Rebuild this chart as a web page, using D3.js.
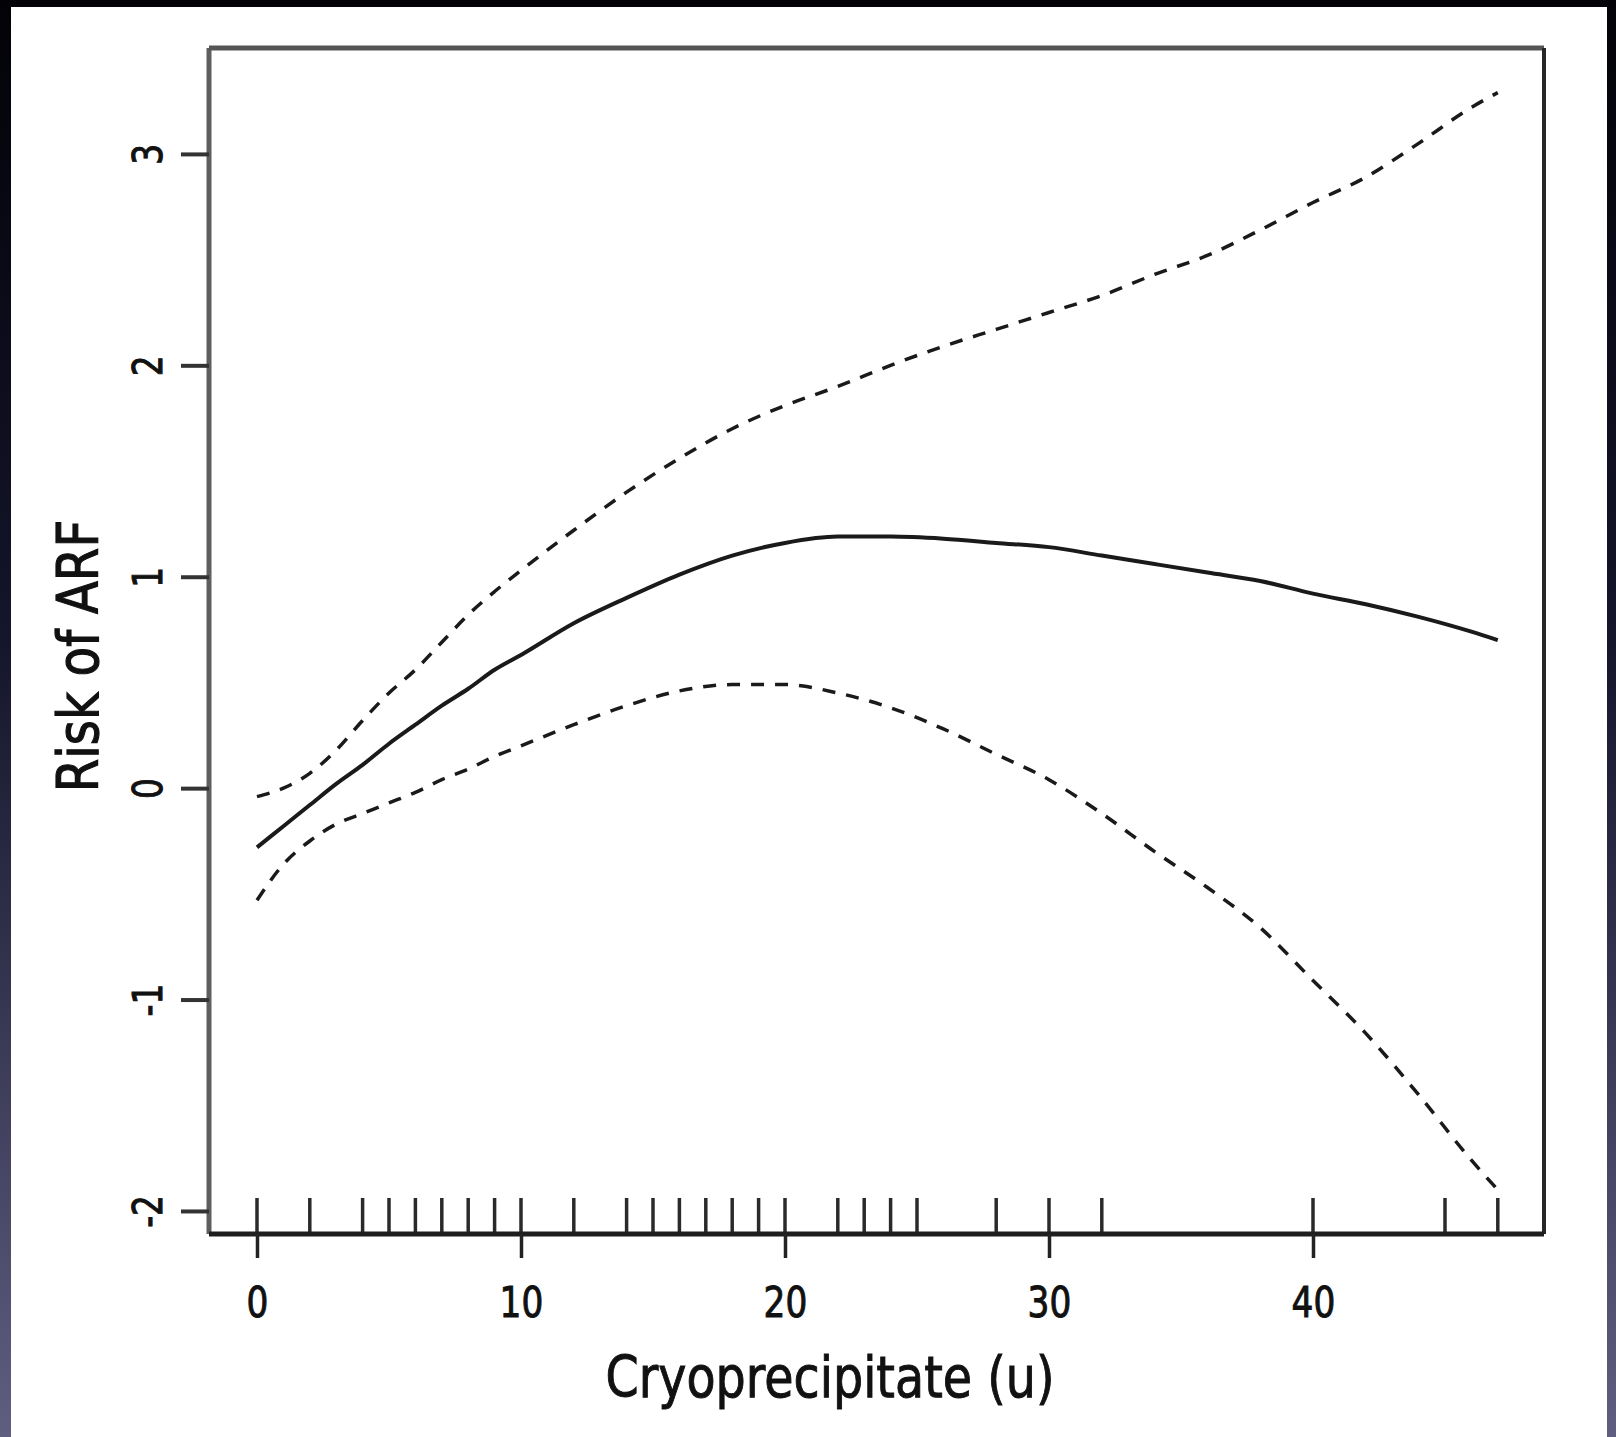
<!DOCTYPE html>
<html>
<head>
<meta charset="utf-8">
<script src="https://cdn.jsdelivr.net/npm/d3@7"></script>
<style>
  body { margin: 0; background: #000; }
  svg { display: block; }
</style>
</head>
<body>
<div id="chart"></div>
<script>
// x grid for the fitted curve (units of cryoprecipitate)
const xs = [0, 1, 2, 3, 4, 5, 6, 7, 8, 9, 10, 12, 14, 16, 18, 20, 22, 24, 26, 28, 30, 32, 34, 36, 38, 40, 42, 44, 46, 47];
// fitted risk
const fit = [-0.28, -0.18, -0.08, 0.02, 0.11, 0.21, 0.30, 0.39, 0.47, 0.56, 0.63, 0.78, 0.90, 1.01, 1.10, 1.16, 1.19, 1.19, 1.18, 1.16, 1.14, 1.10, 1.06, 1.02, 0.98, 0.92, 0.87, 0.81, 0.74, 0.70];
// upper and lower confidence bands
const upper = [-0.04, 0.00, 0.07, 0.18, 0.32, 0.45, 0.56, 0.69, 0.82, 0.93, 1.03, 1.22, 1.40, 1.56, 1.70, 1.81, 1.90, 2.00, 2.09, 2.17, 2.25, 2.33, 2.43, 2.52, 2.64, 2.77, 2.89, 3.05, 3.22, 3.29];
const lower = [-0.53, -0.36, -0.25, -0.17, -0.12, -0.07, -0.02, 0.04, 0.09, 0.15, 0.20, 0.30, 0.39, 0.46, 0.49, 0.49, 0.45, 0.38, 0.28, 0.16, 0.04, -0.12, -0.30, -0.47, -0.66, -0.91, -1.16, -1.45, -1.76, -1.90];
// observed values shown as a rug
const rug = [0, 2, 4, 5, 6, 7, 8, 9, 10, 12, 14, 15, 16, 17, 18, 19, 20, 22, 23, 24, 25, 28, 30, 32, 40, 45, 47];
// axis ticks
const xTicks = [0, 10, 20, 30, 40];
const yTicks = [-2, -1, 0, 1, 2, 3];

const width = 1616;
const height = 1437;
const font = "'DejaVu Sans', Verdana, sans-serif";

const svg = d3.select("#chart").append("svg")
  .attr("width", width)
  .attr("height", height);

// dark frame around the white panel
const grad = svg.append("defs").append("linearGradient")
  .attr("id", "frame").attr("x1", 0).attr("y1", 0).attr("x2", 0).attr("y2", 1);
grad.append("stop").attr("offset", "0%").attr("stop-color", "#020207");
grad.append("stop").attr("offset", "45%").attr("stop-color", "#15152c");
grad.append("stop").attr("offset", "100%").attr("stop-color", "#605e80");
svg.append("rect").attr("width", width).attr("height", height).attr("fill", "url(#frame)");
svg.append("rect").attr("x", 11).attr("y", 7).attr("width", 1596).attr("height", height - 7).attr("fill", "#fff");

// plot box
const margin = { top: 48, right: 1544, bottom: 1234, left: 209 };

const x = d3.scaleLinear().domain([-1.818, 48.75]).range([margin.left, margin.right]);
const y = d3.scaleLinear().domain([-2.109, 3.501]).range([margin.bottom, margin.top]);

// squeeze text along its direction (the source font is narrower than DejaVu)
function squeeze(sel, k) {
  sel.each(function () {
    const n = this.getComputedTextLength();
    d3.select(this).attr("textLength", n * k).attr("lengthAdjust", "spacingAndGlyphs");
  });
}

// curves
const line = d3.line()
  .x((d) => x(d[0]))
  .y((d) => y(d[1]))
  .curve(d3.curveMonotoneX);

svg.append("path")
  .datum(xs.map((v, i) => [v, upper[i]]))
  .attr("fill", "none").attr("stroke", "#1a1a1a").attr("stroke-width", 3.5)
  .attr("stroke-dasharray", "13 11")
  .attr("d", line);

svg.append("path")
  .datum(xs.map((v, i) => [v, lower[i]]))
  .attr("fill", "none").attr("stroke", "#1a1a1a").attr("stroke-width", 3.5)
  .attr("stroke-dasharray", "13 11")
  .attr("d", line);

svg.append("path")
  .datum(xs.map((v, i) => [v, fit[i]]))
  .attr("fill", "none").attr("stroke", "#1a1a1a").attr("stroke-width", 4)
  .attr("d", line);

// rug
svg.append("g").selectAll("line")
  .data(rug)
  .join("line")
  .attr("x1", (d) => x(d)).attr("x2", (d) => x(d))
  .attr("y1", margin.bottom - 36).attr("y2", margin.bottom)
  .attr("stroke", "#2a2a2a").attr("stroke-width", 3.5);

// box
svg.append("line").attr("x1", margin.left).attr("x2", margin.left)
  .attr("y1", margin.top).attr("y2", margin.bottom)
  .attr("stroke", "#5f5f5f").attr("stroke-width", 5);
svg.append("line").attr("x1", margin.left).attr("x2", margin.right)
  .attr("y1", margin.top).attr("y2", margin.top)
  .attr("stroke", "#555").attr("stroke-width", 5);
svg.append("line").attr("x1", margin.right).attr("x2", margin.right)
  .attr("y1", margin.top).attr("y2", margin.bottom)
  .attr("stroke", "#262626").attr("stroke-width", 4);
svg.append("line").attr("x1", margin.left).attr("x2", margin.right)
  .attr("y1", margin.bottom).attr("y2", margin.bottom)
  .attr("stroke", "#1e1e1e").attr("stroke-width", 5);

// x axis
const xAxis = svg.append("g")
  .attr("transform", `translate(0,${margin.bottom})`)
  .call(d3.axisBottom(x).tickValues(xTicks).tickSize(24).tickFormat((d) => String(d)));
xAxis.select(".domain").remove();
xAxis.selectAll(".tick line").attr("stroke", "#222").attr("stroke-width", 3.5);
xAxis.selectAll(".tick text")
  .attr("y", 83).attr("dy", 0)
  .attr("fill", "#111").attr("stroke", "#111").attr("stroke-width", 1)
  .style("font-family", font).style("font-size", "43px")
  .call(squeeze, 0.8);

// y axis
const yAxis = svg.append("g")
  .attr("transform", `translate(${margin.left},0)`)
  .call(d3.axisLeft(y).tickValues(yTicks).tickSize(28).tickFormat((d) => String(d)));
yAxis.select(".domain").remove();
yAxis.selectAll(".tick line").attr("stroke", "#333").attr("stroke-width", 4);
yAxis.selectAll(".tick text")
  .attr("x", 0).attr("dy", 0)
  .attr("transform", "translate(-47,0) rotate(-90)")
  .attr("text-anchor", "middle")
  .attr("fill", "#111").attr("stroke", "#111").attr("stroke-width", 1)
  .style("font-family", font).style("font-size", "41px")
  .call(squeeze, 0.8);

// axis titles
svg.append("text")
  .attr("x", 830).attr("y", 1397)
  .attr("text-anchor", "middle")
  .attr("fill", "#111").attr("stroke", "#111").attr("stroke-width", 1)
  .style("font-family", font).style("font-size", "57px")
  .text("Cryoprecipitate (u)")
  .call(squeeze, 0.835);

svg.append("text")
  .attr("transform", "translate(98,656) rotate(-90)")
  .attr("text-anchor", "middle")
  .attr("fill", "#111").attr("stroke", "#111").attr("stroke-width", 1.2)
  .style("font-family", font).style("font-size", "57px")
  .text("Risk of ARF")
  .call(squeeze, 0.85);
</script>
</body>
</html>
